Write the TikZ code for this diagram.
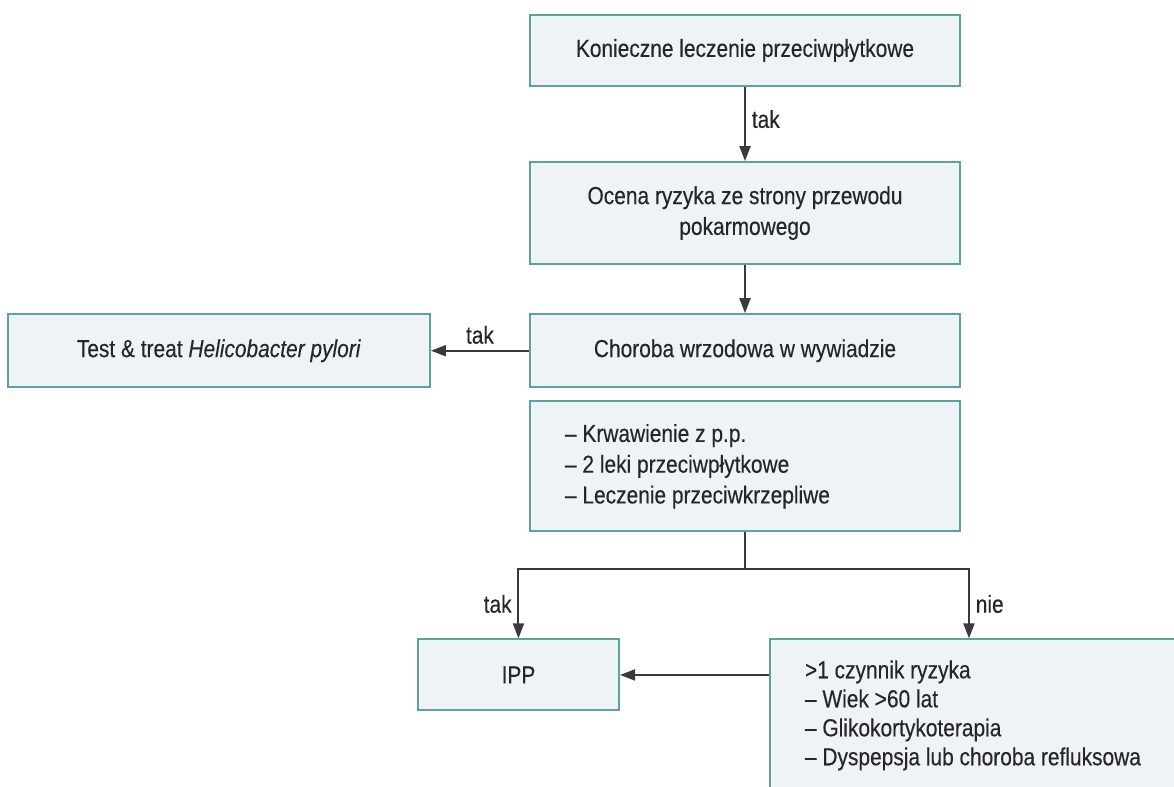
\documentclass[tikz,border=0pt]{standalone}
\usepackage{fontspec}
\setmainfont{Liberation Sans}[FakeStretch=0.85, FakeBold=0.3]
\usepackage{xcolor}
\usetikzlibrary{arrows.meta, positioning, calc}
\definecolor{boxline}{HTML}{5BA39F}
\definecolor{boxfill}{HTML}{EEF3F6}
\definecolor{txtgray}{HTML}{262626}
\definecolor{arrgray}{HTML}{3A3A3A}

\begin{document}
\begin{tikzpicture}[>={Triangle[length=0.3cm, width=0.22cm]}, font=\fontsize{14}{17.5}\selectfont,
    box/.style={draw=boxline, fill=boxfill, line width=1.2pt, minimum width=8.6cm, align=center, text=txtgray},
    conn/.style={draw=arrgray, line width=1.1pt},
    lbl/.style={text=txtgray}]
    \useasboundingbox (0,0) rectangle (23.48,-15.74);

    \node[box, minimum height=1.42cm] (need) at (14.9,-1.01) {Konieczne leczenie przeciwpłytkowe};
    \node[box, minimum height=2.04cm, below=1.48cm of need] (risk) {Ocena ryzyka ze strony przewodu\\pokarmowego};
    \node[box, minimum height=1.46cm, below=0.96cm of risk] (ulcer) {Choroba wrzodowa w wywiadzie};
    \node[box, minimum height=1.46cm, minimum width=8.44cm, left=1.96cm of ulcer] (hp) {Test \& treat \textit{Helicobacter pylori}};
    \node[box, minimum height=2.6cm, text width=7.2cm, inner xsep=0.7cm, align=flush left, below=0.24cm of ulcer] (bleed)
        {– Krwawienie z p.p.\\– 2 leki przeciwpłytkowe\\– Leczenie przeciwkrzepliwe};

    \node[box, minimum height=1.42cm, minimum width=4.02cm, below=2.12cm of bleed.south west, xshift=-0.21cm] (ipp) {IPP};
    \node[box, text width=7.2cm, inner xsep=0.7cm, inner ysep=0.42cm, text depth=2.6cm, align=flush left, font=\fontsize{14}{16.5}\selectfont,
        below right=2.12cm and 4.8cm of bleed.south west] (factors)
        {>1 czynnik ryzyka\\– Wiek >60 lat\\– Glikokortykoterapia\\– Dyspepsja lub choroba refluksowa};
    \coordinate (nietop) at ($(factors.north west)+(4,0)$);

    \draw[conn, ->] (need) -- node[lbl, right, midway, yshift=0.1cm] {tak} (risk);
    \draw[conn, ->] (risk) -- (ulcer);
    \draw[conn, ->] (ulcer) -- node[lbl, above, midway] {tak} (hp);
    \draw[conn] (bleed.south) -- ++(0,-0.74) coordinate (split);
    \draw[conn, ->] (split) -| node[lbl, left, pos=0.75] {tak} (ipp.north);
    \draw[conn, ->] (split) -| node[lbl, right, pos=0.75] {nie} (nietop);
    \draw[conn, ->] (factors.west |- ipp.east) -- (ipp.east);
\end{tikzpicture}
\end{document}
